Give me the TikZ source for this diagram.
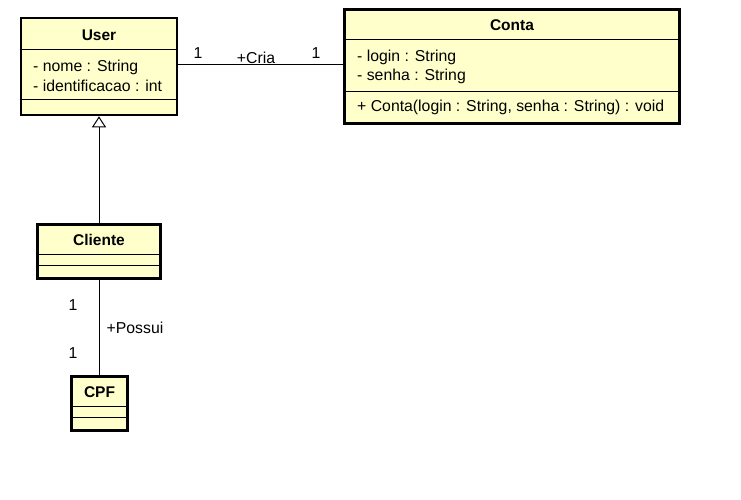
\documentclass[tikz,border=0pt]{standalone}
\usepackage{fontspec}
\setmainfont{Liberation Sans}
\usetikzlibrary{arrows.meta,positioning}
\definecolor{classfill}{RGB}{255,255,204}
\begin{document}
\begin{tikzpicture}[x=1pt, y=-1pt,
  classbox/.style={draw, line width=2.6pt, fill=classfill, inner sep=0pt},
  sep/.style={line width=1pt},
  ctitle/.style={font=\fontsize{15.5}{18}\selectfont\bfseries, inner sep=0pt},
  member/.style={font=\fontsize{15.8}{18}\selectfont, anchor=west, inner sep=0pt},
  mult/.style={font=\fontsize{15.8}{18}\selectfont, inner sep=0pt},
  assoc/.style={line width=1pt},
  inherit/.style={line width=1pt, -{Triangle[open, length=11pt, width=14pt, line width=1pt]}}]
\useasboundingbox (0,0) rectangle (741,500);

% User class
\node[classbox, minimum width=156pt, minimum height=97pt] (user) at (99,66.5) {};
\draw[sep] (user.west |- 0,50) -- (user.east |- 0,50);
\draw[sep] (user.west |- 0,100) -- (user.east |- 0,100);
\node[ctitle] (usertitle) at (99,35) {User};
\node[member] (nome) at (33,67) {- nome : String};
\node[member] (ident) at (33,86) {- identificacao : int};

% Conta class
\node[classbox, minimum width=335pt, minimum height=114pt] (conta) at (512,66.5) {};
\draw[sep] (conta.west |- 0,40) -- (conta.east |- 0,40);
\draw[sep] (conta.west |- 0,92) -- (conta.east |- 0,92);
\node[ctitle] (contatitle) at (512,25) {Conta};
\node[member] (login) at (357,57) {- login : String};
\node[member] (senha) at (357,76) {- senha : String};
\node[member] (ctor) at (357,107) {+ Conta(login : String, senha : String) : void};

% Cliente class
\node[classbox, minimum width=123pt, minimum height=54pt] (cliente) at (99,251.5) {};
\draw[sep] (cliente.west |- 0,254) -- (cliente.east |- 0,254);
\draw[sep] (cliente.west |- 0,265) -- (cliente.east |- 0,265);
\node[ctitle] (clientetitle) at (99,240) {Cliente};

% CPF class
\node[classbox, minimum width=56pt, minimum height=54pt] (cpf) at (99.5,403.5) {};
\draw[sep] (cpf.west |- 0,406) -- (cpf.east |- 0,406);
\draw[sep] (cpf.west |- 0,417) -- (cpf.east |- 0,417);
\node[ctitle] (cpftitle) at (99.5,392) {CPF};

% relations
\draw[assoc] (user.east |- 0,65) -- (conta.west |- 0,65);
\node[mult] (m1) at (198,53) {1};
\node[mult] (cria) at (256,58) {+Cria};
\node[mult] (m2) at (316,53) {1};

\draw[inherit] (cliente.north -| 99,0) -- (user.south -| 99,0);

\draw[assoc] (cliente.south -| 99,0) -- (cpf.north -| 99,0);
\node[mult] (m3) at (73,305) {1};
\node[mult] (possui) at (135,328) {+Possui};
\node[mult] (m4) at (73,353) {1};
\end{tikzpicture}
\end{document}
